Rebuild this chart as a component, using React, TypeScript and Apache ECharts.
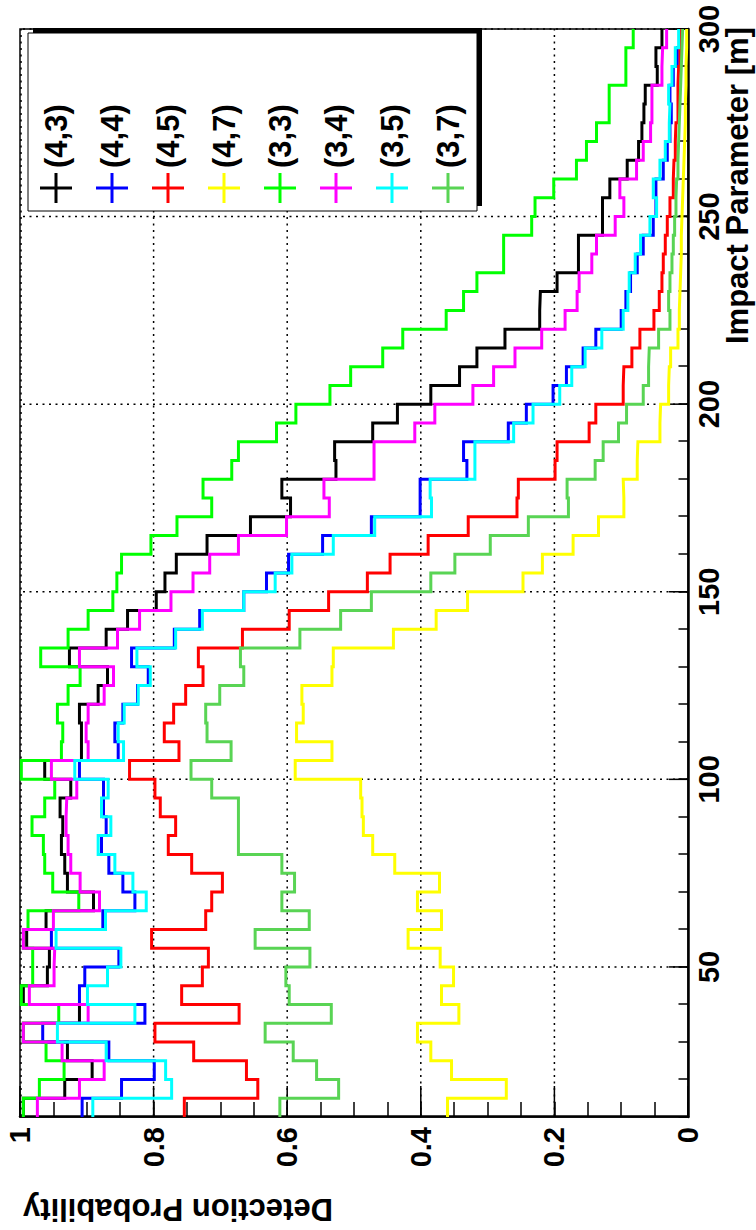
import React, { useEffect, useRef } from 'react';
import * as echarts from 'echarts';

// Bin edges of the impact-parameter histograms [m]
const binEdges = [
  10, 15, 20, 25, 30, 35, 40, 45, 50, 55, 60, 65, 70, 75, 80, 85, 90, 95, 100, 105,
  110, 115, 120, 125, 130, 135, 140, 145, 150, 155, 160, 165, 170, 175, 180, 185, 190, 195, 200, 205,
  210, 215, 220, 225, 230, 235, 240, 245, 250, 255, 260, 265, 270, 275, 280, 285, 290, 295, 300,
];

const seriesNames = ['(4,3)', '(4,4)', '(4,5)', '(4,7)', '(3,3)', '(3,4)', '(3,5)', '(3,7)'];
const seriesColors = ['#000000', '#0000ff', '#ff0000', '#ffff00', '#00ff00', '#ff00ff', '#00ffff', '#59d454'];

// Detection probability per 5 m bin (10-15, 15-20, ... 295-300)
const p43 = [
  0.995, 0.933, 0.892, 0.929, 0.995, 0.911, 0.995, 0.959, 0.956, 0.990,
  0.961, 0.890, 0.929, 0.933, 0.938, 0.936, 0.940, 0.924, 0.963, 0.908,
  0.908, 0.911, 0.883, 0.869, 0.926, 0.871, 0.839, 0.796, 0.783, 0.766,
  0.720, 0.655, 0.595, 0.608, 0.527, 0.529, 0.472, 0.435, 0.385, 0.342,
  0.316, 0.274, 0.222, 0.221, 0.196, 0.164, 0.164, 0.128, 0.128, 0.117,
  0.091, 0.074, 0.069, 0.066, 0.064, 0.046, 0.048, 0.039,
];
const p44 = [
  0.907, 0.848, 0.799, 0.867, 0.966, 0.813, 0.911, 0.903, 0.852, 0.953,
  0.876, 0.828, 0.846, 0.867, 0.878, 0.871, 0.875, 0.875, 0.911, 0.853,
  0.858, 0.846, 0.824, 0.808, 0.833, 0.769, 0.731, 0.665, 0.631, 0.598,
  0.547, 0.474, 0.401, 0.401, 0.331, 0.336, 0.269, 0.242, 0.202, 0.182,
  0.157, 0.138, 0.100, 0.093, 0.086, 0.076, 0.067, 0.052, 0.048, 0.048,
  0.037, 0.031, 0.027, 0.025, 0.027, 0.022, 0.016, 0.012,
];
const p45 = [
  0.754, 0.644, 0.661, 0.740, 0.798, 0.672, 0.758, 0.727, 0.718, 0.803,
  0.722, 0.713, 0.697, 0.743, 0.778, 0.767, 0.790, 0.798, 0.836, 0.762,
  0.784, 0.770, 0.752, 0.726, 0.733, 0.667, 0.597, 0.538, 0.480, 0.446,
  0.389, 0.329, 0.256, 0.254, 0.199, 0.196, 0.148, 0.138, 0.097, 0.096,
  0.084, 0.072, 0.051, 0.043, 0.039, 0.037, 0.034, 0.031, 0.027, 0.022,
  0.021, 0.019, 0.018, 0.015, 0.015, 0.014, 0.012, 0.011,
];
const p47 = [
  0.360, 0.272, 0.354, 0.385, 0.405, 0.343, 0.369, 0.351, 0.371, 0.419,
  0.369, 0.405, 0.372, 0.439, 0.472, 0.486, 0.488, 0.490, 0.588, 0.533,
  0.586, 0.576, 0.578, 0.533, 0.531, 0.441, 0.377, 0.330, 0.247, 0.218,
  0.172, 0.134, 0.096, 0.097, 0.076, 0.075, 0.042, 0.041, 0.029, 0.028,
  0.026, 0.015, 0.013, 0.012, 0.011, 0.010, 0.010, 0.009, 0.008, 0.007,
  0.006, 0.005, 0.004, 0.004, 0.003, 0.003, 0.002, 0.002,
];
const p33 = [
  0.995, 0.971, 0.934, 0.961, 0.995, 0.942, 0.998, 0.981, 0.981, 0.995,
  0.988, 0.912, 0.951, 0.963, 0.965, 0.982, 0.963, 0.948, 0.998, 0.938,
  0.936, 0.944, 0.928, 0.910, 0.969, 0.928, 0.898, 0.861, 0.855, 0.848,
  0.804, 0.765, 0.713, 0.726, 0.683, 0.673, 0.616, 0.587, 0.536, 0.505,
  0.457, 0.427, 0.362, 0.336, 0.316, 0.276, 0.276, 0.234, 0.229, 0.201,
  0.167, 0.152, 0.137, 0.118, 0.118, 0.093, 0.093, 0.082,
];
const p34 = [
  0.974, 0.911, 0.874, 0.937, 0.995, 0.898, 0.986, 0.949, 0.948, 0.995,
  0.950, 0.881, 0.910, 0.924, 0.928, 0.931, 0.930, 0.915, 0.953, 0.898,
  0.901, 0.898, 0.874, 0.860, 0.911, 0.854, 0.821, 0.774, 0.741, 0.716,
  0.673, 0.601, 0.537, 0.545, 0.470, 0.470, 0.409, 0.379, 0.322, 0.291,
  0.259, 0.219, 0.184, 0.166, 0.163, 0.144, 0.137, 0.109, 0.096, 0.102,
  0.077, 0.067, 0.056, 0.054, 0.054, 0.039, 0.038, 0.032,
];
const p35 = [
  0.891, 0.773, 0.782, 0.871, 0.944, 0.828, 0.899, 0.869, 0.849, 0.946,
  0.872, 0.811, 0.831, 0.858, 0.883, 0.864, 0.878, 0.868, 0.918, 0.845,
  0.853, 0.844, 0.823, 0.805, 0.825, 0.767, 0.727, 0.665, 0.618, 0.593,
  0.531, 0.469, 0.384, 0.386, 0.319, 0.319, 0.261, 0.232, 0.192, 0.174,
  0.154, 0.129, 0.097, 0.090, 0.088, 0.079, 0.071, 0.057, 0.047, 0.052,
  0.042, 0.034, 0.028, 0.027, 0.029, 0.024, 0.019, 0.014,
];
const p37 = [
  0.611, 0.523, 0.556, 0.591, 0.633, 0.534, 0.597, 0.602, 0.566, 0.648,
  0.567, 0.608, 0.589, 0.608, 0.673, 0.673, 0.673, 0.713, 0.744, 0.684,
  0.720, 0.722, 0.701, 0.665, 0.670, 0.581, 0.520, 0.474, 0.385, 0.349,
  0.296, 0.239, 0.179, 0.181, 0.139, 0.127, 0.104, 0.092, 0.067, 0.059,
  0.058, 0.044, 0.027, 0.029, 0.027, 0.024, 0.022, 0.020, 0.018, 0.017,
  0.015, 0.014, 0.013, 0.012, 0.011, 0.010, 0.009, 0.008,
];

const impactMajorTicks = [50, 100, 150, 200, 250, 300];
const probMajorTicks = [0, 0.2, 0.4, 0.6, 0.8, 1];

const FONT = '"Liberation Sans", Arial, Helvetica, sans-serif';
const PLUS_ICON = 'path://M13.5,0h3v14.5h13.5v3h-13.5v14.5h-3v-14.5h-13.5v-3h13.5z';

export default function App() {
  const ref = useRef<HTMLDivElement>(null);

  useEffect(() => {
    if (!ref.current) return;
    const chart = echarts.init(ref.current, null, { renderer: 'svg', width: 1230, height: 756 });
    const allValues = [p43, p44, p45, p47, p33, p34, p35, p37];

    const lineSeries = seriesNames.map((name, i) => ({
      name,
      type: 'line',
      step: 'end',
      showSymbol: false,
      symbol: 'none',
      silent: true,
      z: 3,
      data: binEdges.map((e, j) => [e, allValues[i][Math.min(j, allValues[i].length - 1)]]),
      lineStyle: { color: seriesColors[i], width: 3, join: 'miter', cap: 'butt' },
      itemStyle: { color: seriesColors[i] },
      emphasis: { disabled: true },
    }));

    const option: any = {
      animation: false,
      backgroundColor: '#ffffff',
      grid: {
        left: 113, right: 29, top: 20, bottom: 68,
        show: true, borderColor: '#000', borderWidth: 1.5, backgroundColor: 'transparent',
      },
      xAxis: {
        type: 'value', min: 10, max: 300, interval: 10,
        axisLine: { onZero: false, lineStyle: { color: '#000', width: 2.5 } },
        axisTick: { inside: true, length: 9.5, lineStyle: { color: '#000', width: 1.5 } },
        splitLine: { show: false },
        axisLabel: {
          margin: 6, color: '#000', fontFamily: FONT, fontWeight: 'bold', fontSize: 29,
          formatter: (v: number) => (Math.round(v) % 50 === 0 ? String(Math.round(v)) : ''),
        },
      },
      yAxis: {
        type: 'value', min: 0, max: 1, interval: 0.05,
        axisLine: { onZero: false, lineStyle: { color: '#000', width: 2.5 } },
        axisTick: { inside: true, length: 15, lineStyle: { color: '#000', width: 1.5 } },
        splitLine: { show: false },
        axisLabel: {
          margin: 10, color: '#000', fontFamily: FONT, fontWeight: 'bold', fontSize: 29,
          formatter: (v: number) => {
            const k = Math.round(v * 20);
            return k % 4 === 0 ? String(k / 20) : '';
          },
        },
      },
      legend: {
        data: seriesNames,
        orient: 'vertical',
        left: 1027, top: 40, padding: 0,
        itemWidth: 30, itemHeight: 32, itemGap: 24,
        icon: PLUS_ICON,
        selectedMode: false,
        z: 20,
        textStyle: { fontFamily: FONT, fontWeight: 'bold', fontSize: 31, color: '#000', lineHeight: 32 },
      },
      graphic: [
        {
          type: 'rect', z: 10, silent: true,
          shape: { x: 1024, y: 33, width: 178, height: 449 },
          style: { fill: '#000' },
        },
        {
          type: 'rect', z: 11, silent: true,
          shape: { x: 1019, y: 28, width: 178, height: 449 },
          style: { fill: '#fff', stroke: '#000', lineWidth: 1 },
        },
        {
          type: 'text', z: 12, silent: true, x: 1203, y: 722,
          style: {
            text: 'Impact Parameter [m]', fill: '#000',
            fontFamily: FONT, fontWeight: 'bold', fontSize: 31,
            align: 'right', verticalAlign: 'top', textAlign: 'right', textVerticalAlign: 'top',
          },
        },
        {
          type: 'text', z: 12, silent: true, x: 21, y: 178, rotation: Math.PI / 2,
          style: {
            text: 'Detection Probability', fill: '#000',
            fontFamily: FONT, fontWeight: 'bold', fontSize: 31,
            align: 'center', verticalAlign: 'middle', textAlign: 'center', textVerticalAlign: 'middle',
          },
        },
      ],
      series: [
        {
          type: 'custom', silent: true, z: 1,
          data: impactMajorTicks.map((v) => [v, 0]),
          renderItem: (_p: any, api: any) => {
            const v = api.value(0);
            const b = api.coord([v, 0]);
            const t = api.coord([v, 1]);
            return {
              type: 'group',
              children: [
                { type: 'line', shape: { x1: b[0], y1: b[1], x2: t[0], y2: t[1] + 1 }, style: { stroke: '#000', lineWidth: 1.5, lineDash: [2, 4.5] } },
                { type: 'line', shape: { x1: b[0], y1: b[1], x2: b[0], y2: b[1] - 19 }, style: { stroke: '#000', lineWidth: 1.5 } },
              ],
            };
          },
        },
        {
          type: 'custom', silent: true, z: 1,
          data: probMajorTicks.map((v) => [10, v]),
          renderItem: (_p: any, api: any) => {
            const v = api.value(1);
            const l = api.coord([10, v]);
            const r = api.coord([300, v]);
            const children: any[] = [
              { type: 'line', shape: { x1: l[0], y1: l[1], x2: l[0] + 31, y2: l[1] }, style: { stroke: '#000', lineWidth: 1.5 } },
            ];
            if (v > 0) {
              children.unshift({ type: 'line', shape: { x1: l[0] + 1, y1: l[1] + (v >= 1 ? 1 : 0), x2: r[0], y2: r[1] + (v >= 1 ? 1 : 0) }, style: { stroke: '#000', lineWidth: 1.5, lineDash: [2, 4.5] } });
            }
            return { type: 'group', children };
          },
        },
        ...lineSeries,
      ],
    };

    chart.setOption(option);
    return () => chart.dispose();
  }, []);

  return (
    <div style={{ position: 'absolute', left: 0, top: 0, width: 756, height: 1230, overflow: 'hidden', background: '#fff' }}>
      <div
        style={{
          position: 'absolute', left: 0, top: 0, width: 1230, height: 756,
          transformOrigin: '0 0', transform: 'translateY(1230px) rotate(-90deg)',
        }}
      >
        <div ref={ref} style={{ width: 1230, height: 756 }} />
      </div>
    </div>
  );
}
